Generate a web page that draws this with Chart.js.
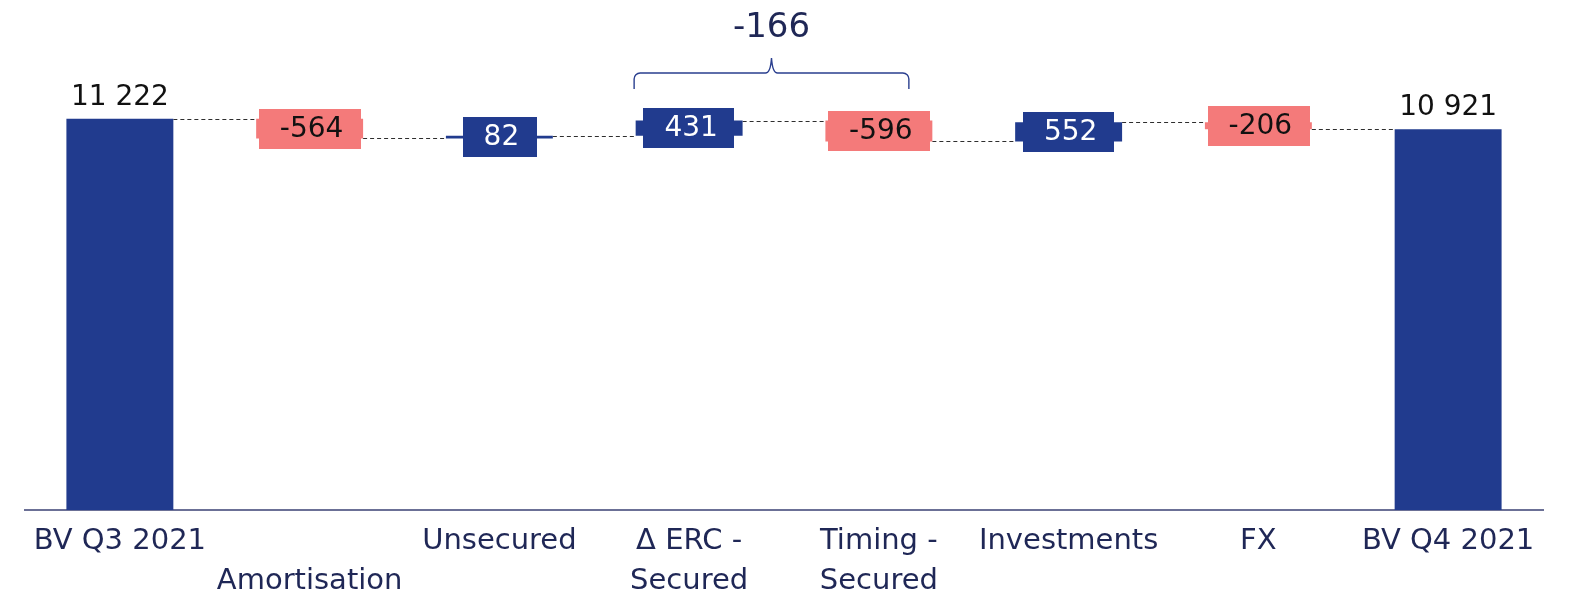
<!DOCTYPE html>
<html>
<head>
<meta charset="utf-8">
<script src="https://cdn.jsdelivr.net/npm/chart.js@4/dist/chart.umd.min.js"></script>
<style>
  html, body { margin: 0; padding: 0; background: #fff; }
  .wrap { width: 1577px; height: 599px; position: relative; }
</style>
</head>
<body>
<div class="wrap"><canvas id="bv-chart" role="img" aria-label="Waterfall chart of book value from Q3 2021 to Q4 2021"></canvas></div>
<script>
/* ── data ── */
const categories = [
  ['BV Q3 2021'], ['', 'Amortisation'], ['Unsecured'], ['Δ ERC -', 'Secured'],
  ['Timing -', 'Secured'], ['Investments'], ['FX'], ['BV Q4 2021']
];
const steps = [11222, -564, 82, 431, -596, 552, -206, 10921];   // first & last are totals
const isTotal = [true, false, false, false, false, false, false, true];
const valueLabels = ['11 222', '-564', '82', '431', '-596', '552', '-206', '10 921'];
const bracketLabel = '-166';
const bracketFrom = 3, bracketTo = 4;

const NAVY = '#213b8e', SALMON = '#f47a7a', INK = '#1f2756';
const FONT = '"DejaVu Sans", sans-serif';

// floating ranges from the running total
let run = 0;
const ranges = steps.map((v, i) => {
  if (isTotal[i]) { run = v; return [0, v]; }
  const r = [run, run + v];
  run += v;
  return r;
});
const colors = steps.map((v, i) => isTotal[i] || v > 0 ? NAVY : SALMON);

const waterfallDecor = {
  id: 'waterfallDecor',
  beforeDatasetsDraw(chart) {
    // dashed connectors between bars
    const { ctx, scales: { y } } = chart;
    const bars = chart.getDatasetMeta(0).data;
    ctx.save();
    ctx.strokeStyle = '#2e2e2e';
    ctx.lineWidth = 1.2;
    ctx.setLineDash([4, 3]);
    for (let i = 0; i < bars.length - 1; i++) {
      const yy = Math.round(y.getPixelForValue(ranges[i][1])) + 0.5;
      ctx.beginPath();
      ctx.moveTo(bars[i].x + bars[i].width / 2, yy);
      ctx.lineTo(bars[i + 1].x - bars[i + 1].width / 2, yy);
      ctx.stroke();
    }
    ctx.restore();
  },
  afterDatasetsDraw(chart) {
    const { ctx, scales: { x, y } } = chart;
    const bars = chart.getDatasetMeta(0).data;
    ctx.save();
    ctx.font = '28px ' + FONT;
    ctx.textAlign = 'center';
    bars.forEach((b, i) => {
      if (isTotal[i]) {
        ctx.fillStyle = '#111';
        ctx.textBaseline = 'alphabetic';
        ctx.fillText(valueLabels[i], b.x, y.getPixelForValue(ranges[i][1]) - 14);
        return;
      }
      const mid = (y.getPixelForValue(ranges[i][0]) + y.getPixelForValue(ranges[i][1])) / 2;
      const tw = ctx.measureText(valueLabels[i]).width;
      const bw = Math.min(tw + 38, b.width - 3);
      ctx.fillStyle = colors[i];
      ctx.fillRect(Math.round(b.x - bw / 2), Math.round(mid - 20), Math.round(bw), 40);
      ctx.fillStyle = steps[i] > 0 ? '#fff' : '#111';
      ctx.textBaseline = 'middle';
      ctx.fillText(valueLabels[i], b.x + 2, mid + 1);
    });

    // bracket over the secured items
    const xl = x.getPixelForValue(bracketFrom) - 55;
    const xr = x.getPixelForValue(bracketTo) + 30;
    const xm = (xl + xr) / 2;
    const yb = 73, yEnd = 89, yPeak = 58, r = 6;
    ctx.strokeStyle = '#2a3f8f';
    ctx.lineWidth = 1.4;
    ctx.beginPath();
    ctx.moveTo(xl, yEnd);
    ctx.arcTo(xl, yb, xl + r, yb, r);
    ctx.lineTo(xm - r, yb);
    ctx.quadraticCurveTo(xm - 1, yb, xm, yPeak);
    ctx.quadraticCurveTo(xm + 1, yb, xm + r, yb);
    ctx.lineTo(xr - r, yb);
    ctx.arcTo(xr, yb, xr, yEnd, r);
    ctx.lineTo(xr, yEnd);
    ctx.stroke();
    ctx.fillStyle = INK;
    ctx.font = '34px ' + FONT;
    ctx.textBaseline = 'alphabetic';
    ctx.fillText(bracketLabel, xm, 37);
    ctx.restore();
  }
};

new Chart(document.getElementById('bv-chart'), {
  type: 'bar',
  data: {
    labels: categories,
    datasets: [{
      data: ranges,
      backgroundColor: colors,
      borderWidth: 0,
      borderSkipped: false,
      categoryPercentage: 1,
      barPercentage: 0.5636
    }]
  },
  options: {
    responsive: true,
    maintainAspectRatio: false,
    animation: false,
    layout: { padding: { left: 25, right: 34, top: 22, bottom: 0 } },
    plugins: { legend: { display: false }, tooltip: { enabled: false } },
    scales: {
      x: {
        grid: { display: false, drawTicks: false },
        border: { display: true, color: '#6b7096', width: 2 },
        ticks: { color: INK, font: { family: FONT, size: 29, lineHeight: 1.38 }, padding: 11, maxRotation: 0, autoSkip: false },
        afterFit(scale) { scale.height = 89; }
      },
      y: { display: false, min: 0, max: 14000 }
    }
  },
  plugins: [waterfallDecor]
});
</script>
</body>
</html>
